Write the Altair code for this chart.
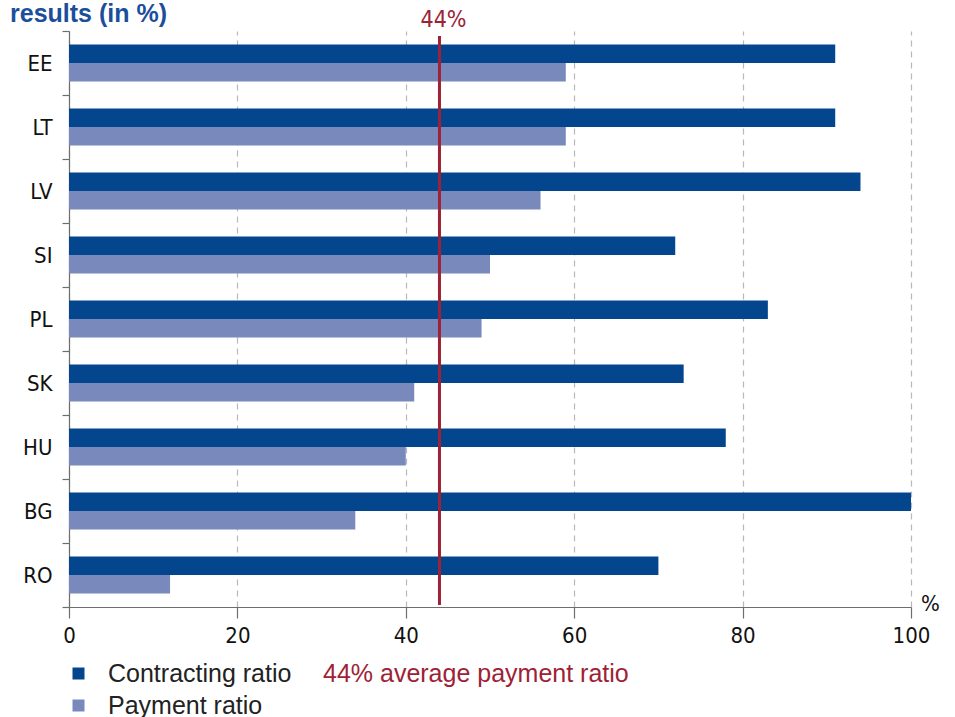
import altair as alt
import pandas as pd

countries = ["EE", "LT", "LV", "SI", "PL", "SK", "HU", "BG", "RO"]
contracting = [91, 91, 94, 72, 83, 73, 78, 100, 70]
payment = [59, 59, 56, 50, 49, 41, 40, 34, 12]
series_names = ["Contracting ratio", "Payment ratio"]
series_colors = ["#03468E", "#7A89BC"]
average_value = 44
average_label = "44% average payment ratio"
x_ticks = [0, 20, 40, 60, 80, 100]

RED = "#9E2236"
NARROW = "'Liberation Sans Narrow', 'DejaVu Sans Condensed', Roboto, sans-serif"
SANS = "'Liberation Sans', Roboto, sans-serif"

rows = []
for c, a, b in zip(countries, contracting, payment):
    rows.append({"country": c, "series": series_names[0], "value": a})
    rows.append({"country": c, "series": series_names[1], "value": b})
df = pd.DataFrame(rows)

avg_df = pd.DataFrame({"avg": [average_value], "label": [average_label], "txt": [f"{average_value}%"]})

bars = alt.Chart(df).mark_bar().encode(
    x=alt.X(
        "value:Q",
        scale=alt.Scale(domain=[0, 100], nice=False),
        axis=alt.Axis(
            values=x_ticks, grid=True, gridDash=[6, 5], gridColor="#b8b8b8", gridWidth=1.2,
            domainColor="#6e6e6e", domainWidth=1.2, tickColor="#6e6e6e", tickSize=11, tickWidth=1.2,
            labelFont=NARROW, labelFontSize=22, labelColor="#111111", labelPadding=7,
            labelFlush=False, labelOverlap=False,
            title="%", titleFont=NARROW, titleFontSize=22, titleFontWeight="normal",
            titleColor="#111111", titleX=861, titleY=3, titleBaseline="alphabetic",
            titleAlign="center",
        ),
    ),
    y=alt.Y(
        "country:N", sort=countries,
        scale=alt.Scale(paddingInner=0, paddingOuter=0),
        axis=alt.Axis(
            title=None, tickBand="extent", tickSize=7, tickColor="#6e6e6e", tickWidth=1.2,
            domainColor="#6e6e6e", domainWidth=1.2,
            labelFont=NARROW, labelFontSize=22, labelColor="#111111", labelPadding=10,
        ),
    ),
    yOffset=alt.YOffset("series:N", sort=series_names,
                        scale=alt.Scale(paddingInner=0, paddingOuter=0.73)),
    color=alt.Color(
        "series:N", sort=series_names,
        scale=alt.Scale(domain=series_names, range=series_colors),
        legend=alt.Legend(
            title=None, orient="none", legendX=-3, legendY=630, padding=0,
            symbolType="square", symbolSize=144, symbolStrokeWidth=0,
            labelFont=SANS, labelFontSize=25, labelColor="#222222",
            labelOffset=17, rowPadding=6, labelLimit=400,
        ),
    ),
)

rule = alt.Chart(avg_df).mark_rule(strokeWidth=3).encode(
    x=alt.X("avg:Q"),
    y=alt.value(5),
    y2=alt.value(574),
    stroke=alt.Stroke(
        "label:N",
        scale=alt.Scale(range=[RED]),
        legend=alt.Legend(
            title=None, orient="none", legendX=229, legendY=630, padding=0,
            symbolSize=0, symbolOpacity=0, symbolStrokeWidth=0,
            labelFont=SANS, labelFontSize=25, labelColor=RED,
            labelOffset=0, labelLimit=500,
        ),
    ),
)

avg_text = alt.Chart(avg_df).mark_text(
    font=NARROW, fontSize=23, color=RED, baseline="alphabetic", align="center", dx=4
).encode(x="avg:Q", y=alt.value(-4), text="txt:N")

title_text = alt.Chart(pd.DataFrame({"t": ["results (in %)"]})).mark_text(
    font=SANS, fontSize=25, fontWeight="bold", color="#1B4F9C",
    baseline="alphabetic", align="left",
).encode(x=alt.value(-59), y=alt.value(-9), text="t:N")

chart = alt.layer(bars, rule, avg_text, title_text).properties(
    width=842, height=576,
    autosize=alt.AutoSizeParams(type="none"),
    padding={"left": 69, "top": 31, "right": 44, "bottom": 110},
    background="white",
).configure_view(stroke=None)

chart.save("out.html", embed_options={"renderer": "svg", "actions": False})
